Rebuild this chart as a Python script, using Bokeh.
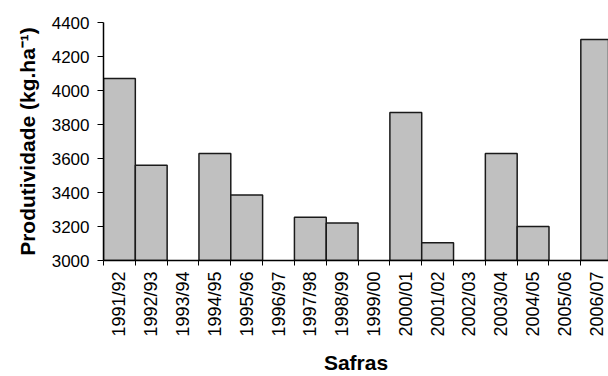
import math
from bokeh.plotting import figure
from bokeh.models import FixedTicker, Range1d, ColumnDataSource
from bokeh.embed import file_html
from bokeh.resources import INLINE

safras = ["1991/92", "1992/93", "1993/94", "1994/95", "1995/96", "1996/97",
          "1997/98", "1998/99", "1999/00", "2000/01", "2001/02", "2002/03",
          "2003/04", "2004/05", "2005/06", "2006/07"]
produtividade = [4070, 3560, None, 3630, 3385, None, 3255, 3220, None,
                 3870, 3105, None, 3630, 3200, None, 4300]
y_ticks = [3000, 3200, 3400, 3600, 3800, 4000, 4200, 4400]

xs = [i for i, v in enumerate(produtividade) if v is not None]
tops = [v for v in produtividade if v is not None]
src = ColumnDataSource(dict(x=xs, top=tops))

FONT = "Liberation Sans"

p = figure(width=608, height=376, output_backend="svg", toolbar_location=None,
           x_range=Range1d(-0.5, 15.37), y_range=Range1d(3000, 4400),
           min_border_left=103, min_border_top=22, min_border_right=0,
           min_border_bottom=116)
p.outline_line_color = None
p.grid.visible = False
p.background_fill_color = "white"

p.vbar(x="x", top="top", bottom=3000, width=1.0, source=src,
       fill_color="#C0C0C0", line_color="#1a1a1a", line_width=1.5)

centers = list(range(len(safras)))
bounds = [i - 0.5 for i in range(len(safras) + 1)]
xa = p.xaxis[0]
xa.ticker = FixedTicker(ticks=centers, minor_ticks=bounds)
xa.major_label_overrides = {i: s for i, s in enumerate(safras)}
xa.major_label_orientation = math.pi / 2
xa.major_tick_out = 0
xa.major_tick_in = 0
xa.minor_tick_out = 5
xa.minor_tick_in = 0
xa.minor_tick_line_color = "black"
xa.axis_line_color = "black"
xa.axis_line_width = 1.5
xa.major_label_text_font = FONT
xa.major_label_text_font_size = "18px"
xa.major_label_text_color = "black"
xa.major_label_standoff = 6
xa.axis_label = "Safras"
xa.axis_label_text_font = FONT
xa.axis_label_text_font_style = "bold"
xa.axis_label_text_font_size = "21px"
xa.axis_label_text_color = "black"
xa.axis_label_standoff = 11

ya = p.yaxis[0]
ya.ticker = FixedTicker(ticks=y_ticks)
ya.major_tick_out = 6
ya.major_tick_in = 0
ya.minor_tick_line_color = None
ya.major_tick_line_color = "black"
ya.axis_line_color = "black"
ya.axis_line_width = 1.5
ya.major_label_text_font = FONT
ya.major_label_text_font_size = "17px"
ya.major_label_text_color = "black"
ya.major_label_standoff = 8
ya.axis_label = "Produtividade (kg.ha\u207b\u00b9)"
ya.axis_label_text_font = FONT
ya.axis_label_text_font_style = "bold"
ya.axis_label_text_font_size = "21px"
ya.axis_label_text_color = "black"
ya.axis_label_standoff = 10

open("out.html", "w").write(file_html(p, INLINE))
